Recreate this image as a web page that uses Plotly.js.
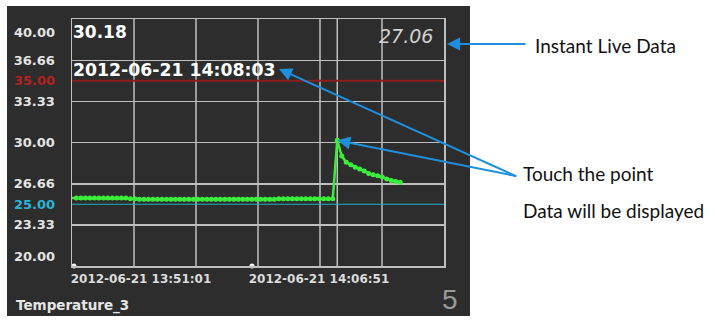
<!DOCTYPE html>
<html>
<head>
<meta charset="utf-8">
<script src="https://cdn.plot.ly/plotly-3.0.1.min.js"></script>
<style>html,body{margin:0;padding:0;background:#fff;}#chart{width:715px;height:321px;}</style>
</head>
<body>
<div id="chart"></div>
<script>
// ---- data ----
const sampleTimes = [
 "13:50:50","13:51:14","13:51:38","13:52:02","13:52:26","13:52:50","13:53:14","13:53:38","13:54:02","13:54:26",
 "13:54:50","13:55:14","13:55:38","13:56:02","13:56:26","13:56:50","13:57:14","13:57:38","13:58:02","13:58:26",
 "13:58:50","13:59:14","13:59:38","14:00:02","14:00:26","14:00:50","14:01:14","14:01:38","14:02:02","14:02:26",
 "14:02:50","14:03:14","14:03:38","14:04:02","14:04:26","14:04:50","14:05:14","14:05:38","14:06:02","14:06:26",
 "14:06:50","14:07:14","14:07:38","14:08:02","14:08:26","14:08:50","14:09:14","14:09:38","14:10:02","14:10:26",
 "14:10:50","14:11:14","14:11:38","14:12:02","14:12:26","14:12:50","14:13:14","14:13:38","14:14:02","14:14:26",
 "14:14:50","14:15:14","14:15:38","14:16:02","14:16:26","14:16:50","14:17:14","14:17:38","14:18:02","14:18:26",
 "14:18:50","14:19:14","14:19:38","14:20:02"
];
const temperature = [
 25.5,25.5,25.5,25.5,25.5,25.5,25.5,25.5,25.5,25.5,
 25.5,25.5,25.5,25.45,25.45,25.4,25.4,25.4,25.4,25.4,
 25.4,25.4,25.4,25.4,25.4,25.4,25.4,25.4,25.4,25.4,
 25.4,25.4,25.4,25.4,25.4,25.4,25.4,25.4,25.4,25.4,
 25.4,25.4,25.4,25.4,25.4,25.4,25.45,25.45,25.45,25.45,
 25.45,25.45,25.45,25.45,25.45,25.45,25.45,25.45,25.45,30.18,
 28.9,28.4,28.2,28.0,27.85,27.7,27.5,27.38,27.3,27.2,
 27.05,26.93,26.85,26.78
];
const dateStr = "2012-06-21";
const xTickTimes = ["13:51:01","14:06:51"];
const xTickLabels = ["2012-06-21 13:51:01","2012-06-21 14:06:51"];
const yTickVals = [23.33, 26.66, 30.00, 33.33, 36.66];
const yTickLabels = ["23.33","26.66","30.00","33.33","36.66"];
const upperLimit = 35.00;
const lowerLimit = 25.00;
const selectedValue = "30.18";
const selectedTime = "2012-06-21 14:08:03";
const liveValue = "27.06";
const sensorName = "Temperature_3";
const pageNumber = "5";
const xRange = ["2012-06-21 13:50:50.3","2012-06-21 14:23:55.7"];
const yRange = [20, 40];

// ---- geometry helpers (page px -> paper fraction) ----
const L = 72, T = 19, R = 444, B = 266;
const PX = p => (p - L) / (R - L);
const PY = p => (B - p) / (B - T);

const xs = sampleTimes.map(t => dateStr + " " + t);
const peakIdx = temperature.indexOf(Math.max(...temperature));

const gridCol = "#bfbfbf";
const labelFont = {family: "DejaVu Sans", size: 13, color: "#e4e4e4", weight: 700};

const traces = [
  {
    x: xs, y: temperature, type: "scatter", mode: "lines+markers",
    line: {color: "#3cee3c", width: 2.5},
    marker: {color: "#3cee3c", size: 5},
    hoverinfo: "skip"
  },
  {
    x: xTickTimes.map(t => dateStr + " " + t), y: [yRange[0], yRange[0]],
    type: "scatter", mode: "markers", cliponaxis: false,
    marker: {color: "#f4f4f4", size: 5}, hoverinfo: "skip"
  }
];

const shapes = [
  {type: "rect", xref: "paper", yref: "paper", x0: PX(7), x1: PX(470), y0: PY(316), y1: PY(6),
   fillcolor: "#2d2d2d", line: {width: 0}, layer: "below"}
];
for (let k = 1; k < 6; k++) {
  shapes.push({type: "line", xref: "x domain", yref: "y domain", x0: k/6, x1: k/6, y0: 0, y1: 1,
    line: {color: gridCol, width: 1.5}, layer: "below"});
}
shapes.push({type: "line", xref: "x", yref: "y domain", x0: xs[peakIdx], x1: xs[peakIdx], y0: 0, y1: 1,
  line: {color: gridCol, width: 1.5}, layer: "below"});
shapes.push({type: "line", xref: "x domain", yref: "y", x0: 0, x1: 1, y0: upperLimit, y1: upperLimit,
  line: {color: "#8c1e1e", width: 2}, layer: "below"});
shapes.push({type: "line", xref: "x domain", yref: "y", x0: 0, x1: 1, y0: lowerLimit, y1: lowerLimit,
  line: {color: "#1fb0c8", width: 1.2}, layer: "below"});

const arrowCol = "#1e8fdc";
const textFont = {family: "Lato", size: 19, color: "#111111"};
const annotations = [
  {xref: "paper", yref: "y", x: 0, y: yRange[1], xshift: -15, yshift: -13, xanchor: "right", yanchor: "middle",
   text: "40.00", showarrow: false, font: labelFont},
  {xref: "paper", yref: "y", x: 0, y: yRange[0], xshift: -15, yshift: 10, xanchor: "right", yanchor: "middle",
   text: "20.00", showarrow: false, font: labelFont},
  {xref: "paper", yref: "y", x: 0, y: upperLimit, xshift: -15, yshift: 0, xanchor: "right", yanchor: "middle",
   text: upperLimit.toFixed(2), showarrow: false, font: Object.assign({}, labelFont, {color: "#b22222"})},
  {xref: "paper", yref: "y", x: 0, y: lowerLimit, xshift: -15, yshift: 0, xanchor: "right", yanchor: "middle",
   text: lowerLimit.toFixed(2), showarrow: false, font: Object.assign({}, labelFont, {color: "#2ab4d4"})},
  {xref: "paper", yref: "paper", x: PX(71), y: PY(32), xanchor: "left", yanchor: "middle",
   text: selectedValue, showarrow: false, font: {family: "DejaVu Sans", size: 17, color: "#ffffff", weight: 700}},
  {xref: "paper", yref: "paper", x: PX(71), y: PY(70), xanchor: "left", yanchor: "middle",
   text: selectedTime, showarrow: false, font: {family: "DejaVu Sans", size: 17.3, color: "#ffffff", weight: 700}},
  {xref: "paper", yref: "paper", x: PX(435), y: PY(36), xanchor: "right", yanchor: "middle",
   text: liveValue, showarrow: false, font: {family: "DejaVu Sans", size: 19, color: "#d2d2d2", style: "italic"}},
  {xref: "paper", yref: "paper", x: PX(14), y: PY(305), xanchor: "left", yanchor: "middle",
   text: sensorName, showarrow: false, font: {family: "DejaVu Sans", size: 13.5, color: "#e6e6e6", weight: 700}},
  {xref: "paper", yref: "paper", x: PX(450), y: PY(299), xanchor: "center", yanchor: "middle",
   text: pageNumber, showarrow: false, font: {family: "Liberation Sans", size: 28, color: "#9a9a9a"}},
  {xref: "paper", yref: "paper", x: PX(533), y: PY(45), xanchor: "left", yanchor: "middle",
   text: "Instant Live Data", showarrow: false, font: textFont},
  {xref: "paper", yref: "paper", x: PX(521), y: PY(173), xanchor: "left", yanchor: "middle",
   text: "Touch the point", showarrow: false, font: textFont},
  {xref: "paper", yref: "paper", x: PX(521), y: PY(210), xanchor: "left", yanchor: "middle",
   text: "Data will be displayed", showarrow: false, font: textFont},
  // arrows
  {xref: "paper", yref: "paper", x: PX(447), y: PY(44), ax: 80, ay: 0, text: "", showarrow: true,
   arrowhead: 2, arrowsize: 1.3, arrowwidth: 2, arrowcolor: arrowCol, standoff: 0, startstandoff: 0},
  {xref: "x", yref: "y", x: xs[peakIdx], y: temperature[peakIdx], ax: 180, ay: 36, text: "", showarrow: true,
   arrowhead: 2, arrowsize: 1.3, arrowwidth: 2, arrowcolor: arrowCol, standoff: 0},
  {xref: "paper", yref: "paper", x: PX(279), y: PY(69), ax: 239, ay: 108, text: "", showarrow: true,
   arrowhead: 2, arrowsize: 1.3, arrowwidth: 2, arrowcolor: arrowCol, standoff: 0}
];

const layout = {
  width: 715, height: 321, autosize: false,
  margin: {l: L, r: 715 - R, t: T, b: 321 - B, pad: 0},
  paper_bgcolor: "#ffffff", plot_bgcolor: "#2d2d2d",
  showlegend: false,
  xaxis: {
    type: "date", range: xRange, tickvals: xTickTimes.map(t => dateStr + " " + t), ticktext: xTickLabels,
    showgrid: false, zeroline: false, showline: true, mirror: true, linecolor: gridCol, linewidth: 1.5,
    ticks: "", ticklabelshift: 67, ticklabelstandoff: 1,
    tickfont: {family: "DejaVu Sans", size: 12, color: "#dcdcdc", weight: 700}, fixedrange: true
  },
  yaxis: {
    range: yRange, tickvals: yTickVals, ticktext: yTickLabels,
    showgrid: true, gridcolor: gridCol, gridwidth: 1.5, zeroline: false,
    showline: true, mirror: true, linecolor: gridCol, linewidth: 1.5,
    ticks: "", ticklabelstandoff: 13, tickfont: labelFont, fixedrange: true
  },
  shapes: shapes,
  annotations: annotations
};

Plotly.newPlot("chart", traces, layout, {displayModeBar: false, staticPlot: true});
</script>
</body>
</html>
